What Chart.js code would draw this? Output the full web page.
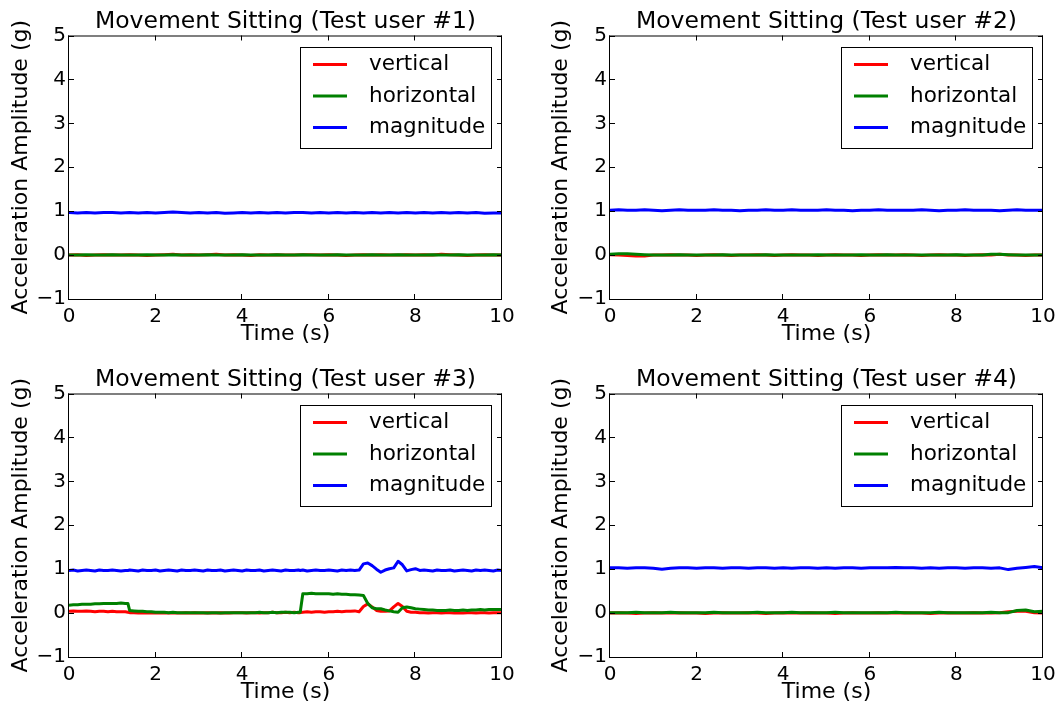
<!DOCTYPE html>
<html>
<head>
<meta charset="utf-8">
<title>Movement Sitting</title>
<script src="https://cdn.jsdelivr.net/npm/chart.js@4/dist/chart.umd.min.js"></script>
<style>
  html, body { margin: 0; padding: 0; background: #fff; }
  #fig { position: relative; width: 1062px; height: 703px; overflow: hidden; background: #fff; }
  #fig canvas { position: absolute; }
</style>
</head>
<body>
<div id="fig">
  <canvas id="c1" width="531" height="351" style="left:0px;top:0px"></canvas>
  <canvas id="c2" width="531" height="351" style="left:531px;top:0px"></canvas>
  <canvas id="c3" width="531" height="352" style="left:0px;top:351px"></canvas>
  <canvas id="c4" width="531" height="352" style="left:531px;top:351px"></canvas>
</div>
<script>
// ---- data ---------------------------------------------------------------
const SERIES_NAMES = ['vertical', 'horizontal', 'magnitude'];
const X_TICKS = [0, 2, 4, 6, 8, 10];
const Y_TICKS = [-1, 0, 1, 2, 3, 4, 5];

// sampling instants (s) for users 1, 2 and 4
const timeCoarse = [
  0, 0.2, 0.4, 0.6, 0.8, 1, 1.2, 1.4, 1.6, 1.8,
  2, 2.2, 2.4, 2.6, 2.8, 3, 3.2, 3.4, 3.6, 3.8,
  4, 4.2, 4.4, 4.6, 4.8, 5, 5.2, 5.4, 5.6, 5.8,
  6, 6.2, 6.4, 6.6, 6.8, 7, 7.2, 7.4, 7.6, 7.8,
  8, 8.2, 8.4, 8.6, 8.8, 9, 9.2, 9.4, 9.6, 9.8,
  10
];

// sampling instants (s) for user 3 (denser, with the two step changes)
const timeUser3 = [
  0, 0.1, 0.2, 0.3, 0.4, 0.5, 0.6, 0.7, 0.8, 0.9,
  1, 1.1, 1.2, 1.3, 1.36, 1.4, 1.5, 1.6, 1.7, 1.8, 1.9,
  2, 2.1, 2.2, 2.3, 2.4, 2.5, 2.6, 2.7, 2.8, 2.9,
  3, 3.1, 3.2, 3.3, 3.4, 3.5, 3.6, 3.7, 3.8, 3.9,
  4, 4.1, 4.2, 4.3, 4.4, 4.5, 4.6, 4.7, 4.8, 4.9,
  5, 5.1, 5.2, 5.3, 5.34, 5.4, 5.5, 5.6, 5.7, 5.8, 5.9,
  6, 6.1, 6.2, 6.3, 6.4, 6.5, 6.6, 6.7, 6.8, 6.9,
  7, 7.1, 7.2, 7.3, 7.4, 7.5, 7.6, 7.7, 7.8, 7.9,
  8, 8.1, 8.2, 8.3, 8.4, 8.5, 8.6, 8.7, 8.8, 8.9,
  9, 9.1, 9.2, 9.3, 9.4, 9.5, 9.6, 9.7, 9.8, 9.9,
  10
];

// Test user #1 (g)
const user1Vertical = [
  0.00, 0.01, -0.01, 0.00, 0.01, 0.00, 0.00, 0.01, 0.00, -0.01,
  0.00, 0.01, 0.02, 0.00, 0.01, 0.00, 0.01, 0.02, 0.00, 0.01,
  0.00, -0.01, 0.01, 0.00, 0.01, 0.00, 0.00, 0.01, 0.01, 0.00,
  0.01, 0.00, -0.01, 0.00, 0.01, 0.00, 0.01, 0.00, 0.00, 0.01,
  0.00, 0.01, 0.00, 0.02, 0.01, 0.00, -0.01, 0.00, 0.01, 0.00,
  0.00
];
const user1Horizontal = [
  0.00, 0.00, 0.01, 0.00, 0.00, 0.01, 0.00, 0.00, 0.00, 0.01,
  0.00, 0.00, 0.01, 0.00, 0.00, 0.00, 0.01, 0.00, 0.00, 0.00,
  0.01, 0.00, 0.00, 0.00, 0.01, 0.00, 0.00, 0.01, 0.00, 0.00,
  0.00, 0.01, 0.00, 0.00, 0.00, 0.01, 0.00, 0.00, 0.01, 0.00,
  0.00, 0.00, 0.01, 0.00, 0.00, 0.01, 0.00, 0.00, 0.00, 0.01,
  0.00
];
const user1Magnitude = [
  0.97, 0.96, 0.97, 0.96, 0.97, 0.97, 0.96, 0.97, 0.96, 0.97,
  0.96, 0.97, 0.98, 0.97, 0.96, 0.97, 0.96, 0.97, 0.95, 0.96,
  0.97, 0.96, 0.97, 0.96, 0.97, 0.96, 0.97, 0.97, 0.96, 0.97,
  0.96, 0.97, 0.96, 0.97, 0.96, 0.97, 0.96, 0.97, 0.96, 0.97,
  0.96, 0.97, 0.96, 0.97, 0.96, 0.97, 0.96, 0.97, 0.95, 0.96,
  0.96
];

// Test user #2 (g)
const user2Vertical = [
  0.01, 0.00, -0.01, -0.02, -0.02, 0.00, 0.00, 0.01, 0.00, 0.00,
  -0.01, 0.00, 0.01, 0.00, -0.01, 0.00, 0.00, 0.01, 0.00, -0.01,
  0.00, 0.01, 0.00, 0.00, -0.01, 0.00, 0.01, 0.00, 0.00, -0.01,
  0.00, 0.01, 0.00, 0.00, 0.01, 0.00, -0.01, 0.00, 0.01, 0.00,
  0.00, -0.01, 0.00, 0.01, 0.00, 0.02, 0.00, 0.00, -0.01, 0.00,
  0.00
];
const user2Horizontal = [
  0.02, 0.03, 0.03, 0.02, 0.01, 0.00, 0.00, 0.00, 0.01, 0.00,
  0.00, 0.00, 0.00, 0.01, 0.00, 0.00, 0.00, 0.00, 0.01, 0.00,
  0.00, 0.00, 0.00, 0.00, 0.01, 0.00, 0.00, 0.00, 0.00, 0.01,
  0.00, 0.00, 0.01, 0.00, 0.00, 0.00, 0.00, 0.00, 0.00, 0.00,
  0.01, 0.00, 0.00, 0.00, 0.02, 0.02, 0.01, 0.00, 0.00, 0.00,
  0.00
];
const user2Magnitude = [
  1.02, 1.03, 1.02, 1.02, 1.03, 1.02, 1.01, 1.02, 1.03, 1.02,
  1.02, 1.02, 1.03, 1.02, 1.02, 1.01, 1.02, 1.02, 1.03, 1.02,
  1.02, 1.03, 1.02, 1.02, 1.02, 1.03, 1.02, 1.02, 1.01, 1.02,
  1.02, 1.03, 1.02, 1.02, 1.02, 1.02, 1.03, 1.02, 1.01, 1.02,
  1.02, 1.03, 1.02, 1.02, 1.02, 1.01, 1.02, 1.03, 1.02, 1.02,
  1.02
];

// Test user #3 (g)
const user3Vertical = [
  0.04, 0.05, 0.04, 0.04, 0.05, 0.04, 0.03, 0.04, 0.04, 0.03,
  0.04, 0.03, 0.03, 0.03, 0.02, 0.01, 0.01, 0.00, 0.01, 0.00, 0.01,
  0.00, 0.01, 0.00, 0.00, 0.01, 0.00, 0.00, 0.01, 0.00, 0.01,
  0.00, 0.00, 0.01, 0.00, 0.00, 0.01, 0.00, 0.00, 0.01, 0.01,
  0.01, 0.00, 0.01, 0.01, 0.00, 0.01, 0.01, 0.02, 0.01, 0.01,
  0.02, 0.01, 0.02, 0.01, 0.01, 0.02, 0.03, 0.02, 0.03, 0.03, 0.02,
  0.03, 0.03, 0.04, 0.03, 0.04, 0.04, 0.05, 0.03, 0.15, 0.21,
  0.14, 0.06, 0.04, 0.04, 0.05, 0.14, 0.22, 0.15, 0.04, 0.02,
  0.02, 0.01, 0.01, 0.00, 0.01, 0.01, 0.00, 0.01, 0.01, 0.00,
  0.01, 0.00, 0.01, 0.01, 0.00, 0.01, 0.01, 0.00, 0.01, 0.01,
  0.01
];
const user3Horizontal = [
  0.18, 0.19, 0.19, 0.20, 0.20, 0.20, 0.21, 0.21, 0.22, 0.22,
  0.22, 0.22, 0.23, 0.22, 0.22, 0.06, 0.05, 0.04, 0.04, 0.03, 0.03,
  0.02, 0.02, 0.02, 0.01, 0.02, 0.01, 0.01, 0.01, 0.01, 0.01,
  0.01, 0.01, 0.00, 0.01, 0.01, 0.00, 0.01, 0.01, 0.01, 0.01,
  0.01, 0.01, 0.01, 0.01, 0.02, 0.01, 0.01, 0.02, 0.01, 0.02,
  0.02, 0.02, 0.01, 0.02, 0.02, 0.44, 0.44, 0.45, 0.44, 0.44, 0.44,
  0.44, 0.43, 0.44, 0.43, 0.43, 0.42, 0.42, 0.41, 0.40, 0.22,
  0.12, 0.10, 0.10, 0.07, 0.05, 0.03, 0.02, 0.12, 0.14, 0.12,
  0.10, 0.09, 0.08, 0.07, 0.07, 0.06, 0.06, 0.06, 0.07, 0.06,
  0.06, 0.07, 0.06, 0.07, 0.07, 0.08, 0.07, 0.08, 0.08, 0.08,
  0.08
];
const user3Magnitude = [
  0.97, 0.98, 0.96, 0.97, 0.98, 0.97, 0.96, 0.98, 0.97, 0.97,
  0.98, 0.97, 0.96, 0.97, 0.97, 0.98, 0.97, 0.96, 0.98, 0.97, 0.97,
  0.98, 0.96, 0.97, 0.98, 0.97, 0.96, 0.98, 0.97, 0.97, 0.98,
  0.97, 0.96, 0.98, 0.97, 0.97, 0.98, 0.96, 0.97, 0.98, 0.97,
  0.96, 0.98, 0.97, 0.97, 0.98, 0.96, 0.97, 0.98, 0.97, 0.96,
  0.98, 0.97, 0.97, 0.98, 0.97, 0.98, 0.96, 0.97, 0.98, 0.97, 0.97,
  0.98, 0.97, 0.96, 0.98, 0.97, 0.98, 0.97, 0.98, 1.12, 1.14,
  1.08, 1.00, 0.93, 0.98, 1.01, 1.03, 1.18, 1.10, 0.96, 0.99,
  1.01, 0.97, 0.98, 0.97, 0.96, 0.98, 0.97, 0.97, 0.98, 0.96,
  0.97, 0.98, 0.97, 0.96, 0.98, 0.97, 0.98, 0.97, 0.96, 0.98,
  0.97
];

// Test user #4 (g)
const user4Vertical = [
  0.00, 0.01, 0.00, -0.01, 0.00, 0.01, 0.00, 0.00, 0.01, 0.00,
  0.00, -0.01, 0.00, 0.01, 0.00, 0.00, 0.01, 0.00, -0.01, 0.00,
  0.01, 0.00, 0.00, 0.01, 0.00, 0.00, -0.01, 0.00, 0.01, 0.00,
  0.00, 0.01, 0.00, 0.00, 0.01, 0.00, 0.00, -0.01, 0.00, 0.01,
  0.00, 0.00, 0.01, 0.00, 0.00, 0.01, 0.03, 0.04, 0.04, 0.01,
  0.00
];
const user4Horizontal = [
  0.01, 0.01, 0.01, 0.02, 0.01, 0.01, 0.01, 0.02, 0.01, 0.01,
  0.01, 0.01, 0.02, 0.01, 0.01, 0.01, 0.01, 0.02, 0.01, 0.01,
  0.01, 0.02, 0.01, 0.01, 0.01, 0.01, 0.02, 0.01, 0.01, 0.01,
  0.01, 0.01, 0.01, 0.02, 0.01, 0.01, 0.01, 0.01, 0.02, 0.01,
  0.01, 0.01, 0.01, 0.01, 0.02, 0.01, 0.01, 0.06, 0.07, 0.03,
  0.04
];
const user4Magnitude = [
  1.03, 1.03, 1.02, 1.03, 1.03, 1.02, 1.00, 1.02, 1.03, 1.03,
  1.02, 1.03, 1.03, 1.02, 1.03, 1.03, 1.02, 1.03, 1.03, 1.02,
  1.03, 1.02, 1.03, 1.03, 1.02, 1.03, 1.02, 1.03, 1.03, 1.02,
  1.03, 1.03, 1.03, 1.04, 1.03, 1.03, 1.02, 1.03, 1.02, 1.03,
  1.03, 1.02, 1.03, 1.03, 1.02, 1.03, 0.99, 1.02, 1.04, 1.06,
  1.03
];

// ---- styling / layout ---------------------------------------------------
const FONT = 'DejaVu Sans';
const COLORS = ['#ff0000', '#008000', '#0000ff'];
const TICK_LEN = 5;

const panels = [
  { id: 'c1', title: 'Movement Sitting (Test user #1)', time: timeCoarse,
    series: [user1Vertical, user1Horizontal, user1Magnitude],
    yAxisWidth: 69, padRight: 29, titleTop: 10, xAxisHeight: 52, xTitleBottom: 6, yTitleLeft: 10 },
  { id: 'c2', title: 'Movement Sitting (Test user #2)', time: timeCoarse,
    series: [user2Vertical, user2Horizontal, user2Magnitude],
    yAxisWidth: 79, padRight: 19, titleTop: 10, xAxisHeight: 52, xTitleBottom: 6, yTitleLeft: 19 },
  { id: 'c3', title: 'Movement Sitting (Test user #3)', time: timeUser3,
    series: [user3Vertical, user3Horizontal, user3Magnitude],
    yAxisWidth: 69, padRight: 29, titleTop: 17, xAxisHeight: 46, xTitleBottom: 0, yTitleLeft: 10 },
  { id: 'c4', title: 'Movement Sitting (Test user #4)', time: timeCoarse,
    series: [user4Vertical, user4Horizontal, user4Magnitude],
    yAxisWidth: 79, padRight: 19, titleTop: 17, xAxisHeight: 46, xTitleBottom: 0, yTitleLeft: 19 }
];

function toPoints(time, values) {
  return time.map((t, i) => ({ x: t, y: values[i] }));
}

function tickLabel(v) {
  return v < 0 ? '\u2212' + Math.abs(v) : String(v);
}

// Axes frame with inward ticks on all four sides, plus the boxed legend.
const axesDecor = {
  id: 'axesDecor',
  afterDatasetsDraw(chart) {
    const { ctx, chartArea: a, scales } = chart;
    ctx.save();
    ctx.strokeStyle = '#000';
    ctx.lineWidth = 1;
    ctx.beginPath();
    X_TICKS.forEach(v => {
      const px = Math.round(scales.x.getPixelForValue(v)) - 0.5;
      ctx.moveTo(px, a.bottom); ctx.lineTo(px, a.bottom - TICK_LEN);
      ctx.moveTo(px, a.top); ctx.lineTo(px, a.top + TICK_LEN);
    });
    Y_TICKS.forEach(v => {
      const py = Math.round(scales.y.getPixelForValue(v)) + 0.5;
      ctx.moveTo(a.left, py); ctx.lineTo(a.left + TICK_LEN, py);
      ctx.moveTo(a.right, py); ctx.lineTo(a.right - TICK_LEN, py);
    });
    ctx.stroke();
    ctx.strokeRect(a.left - 0.5, a.top + 0.5, a.right - a.left, a.bottom - a.top);
    ctx.restore();
  },
  afterDraw(chart) {
    const { ctx, chartArea: a } = chart;
    const w = 191, h = 101;
    const left = Math.round(a.right - 11 - w), top = Math.round(a.top + 11);
    ctx.save();
    ctx.fillStyle = '#fff';
    ctx.fillRect(left, top, w, h);
    ctx.strokeStyle = '#000';
    ctx.lineWidth = 1;
    ctx.strokeRect(left + 0.5, top + 0.5, w, h);
    ctx.font = '21.5px "' + FONT + '"';
    ctx.textBaseline = 'middle';
    ctx.textAlign = 'left';
    chart.data.datasets.forEach((ds, i) => {
      const y = top + 17.5 + i * 31.5;
      ctx.strokeStyle = ds.borderColor;
      ctx.lineWidth = 3;
      ctx.beginPath();
      ctx.moveTo(left + 13, y);
      ctx.lineTo(left + 47, y);
      ctx.stroke();
      ctx.fillStyle = '#000';
      ctx.fillText(ds.label, left + 69, y);
    });
    ctx.restore();
  }
};

Chart.defaults.font.family = FONT;
Chart.defaults.color = '#000';

panels.forEach(p => {
  new Chart(document.getElementById(p.id), {
    type: 'line',
    data: {
      datasets: SERIES_NAMES.map((name, i) => ({
        label: name,
        data: toPoints(p.time, p.series[i]),
        borderColor: COLORS[i],
        backgroundColor: COLORS[i],
        borderWidth: 3,
        pointRadius: 0,
        tension: 0,
        fill: false,
        borderJoinStyle: 'round',
        order: 3 - i
      }))
    },
    options: {
      responsive: false,
      devicePixelRatio: 1,
      animation: false,
      events: [],
      layout: { padding: { left: 0, right: p.padRight, top: 0, bottom: 0 } },
      plugins: {
        legend: { display: false },
        tooltip: { enabled: false },
        title: {
          display: true,
          text: p.title,
          fullSize: false,
          color: '#000',
          font: { family: FONT, size: 23.5, weight: 'normal', lineHeight: 1 },
          padding: { top: p.titleTop, bottom: 2 }
        }
      },
      scales: {
        x: {
          type: 'linear',
          min: 0, max: 10,
          grid: { display: false, drawTicks: false },
          border: { display: false },
          afterBuildTicks: s => { s.ticks = X_TICKS.map(v => ({ value: v })); },
          afterFit: s => { s.height = p.xAxisHeight; },
          ticks: { autoSkip: false, maxRotation: 0, padding: 6, color: '#000',
                   font: { size: 20 }, callback: tickLabel },
          title: { display: true, text: 'Time (s)', color: '#000',
                   font: { size: 22, lineHeight: 1 }, padding: { top: 0, bottom: p.xTitleBottom } }
        },
        y: {
          type: 'linear',
          min: -1, max: 5,
          grid: { display: false, drawTicks: false },
          border: { display: false },
          afterBuildTicks: s => { s.ticks = Y_TICKS.map(v => ({ value: v })); },
          afterFit: s => { s.width = p.yAxisWidth; },
          ticks: { autoSkip: false, padding: 3, color: '#000',
                   font: { size: 20 }, callback: tickLabel },
          title: { display: true, text: 'Acceleration Amplitude (g)', color: '#000',
                   font: { size: 22, lineHeight: 1 }, padding: { top: p.yTitleLeft, bottom: 0 } }
        }
      }
    },
    plugins: [axesDecor]
  });
});
</script>
</body>
</html>
